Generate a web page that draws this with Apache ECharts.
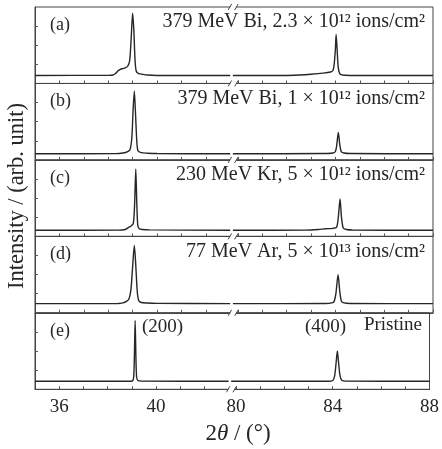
<!DOCTYPE html>
<html><head><meta charset="utf-8">
<script src="https://cdn.jsdelivr.net/npm/echarts@6.0.0/dist/echarts.min.js"></script>
<style>html,body{margin:0;padding:0;background:#fff}#c{width:442px;height:449px}</style>
</head><body><div id="c"></div>
<script>
// ---- data (2θ in degrees, intensity in arb. units) ----
const panelIds = ['(a)', '(b)', '(c)', '(d)', '(e)'];
const panelTitles = [
  '379 MeV Bi, 2.3 × 10¹² ions/cm²',
  '379 MeV Bi, 1 × 10¹² ions/cm²',
  '230 MeV Kr, 5 × 10¹² ions/cm²',
  '77 MeV Ar, 5 × 10¹³ ions/cm²',
  'Pristine'
];
const peakLabels = ['(200)', '(400)'];
const xTickLabels = [36, 40, 80, 84, 88];
const xTicks = [36, 37, 38, 39, 40, 41, 42, 80, 81, 82, 83, 84, 85, 86, 87, 88];
const yTicks = [25, 50, 75];

const leftA = [[35,10.5],[38.0,10.6],[38.2,11],[38.3,13],[38.4,16.5],[38.5,18.5],[38.6,19.5],[38.7,20.5],[38.8,22.5],[38.88,30],[38.94,58],[39.0,92],[39.05,70],[39.1,30],[39.15,16],[39.25,13],[39.4,12],[39.6,11],[40,10.5],[43,10.5]];
const rightA = [[79.8,10.5],[82.0,10.5],[82.5,11],[83.0,12],[83.5,13.5],[83.8,15],[83.9,17],[83.95,25],[84.0,45],[84.03,64],[84.07,45],[84.12,20],[84.2,12],[84.4,10.8],[85,10.5],[88,10.5]];
const leftB = [[35,8],[38.3,8.2],[38.6,9],[38.8,11],[38.9,14],[38.97,30],[39.02,65],[39.07,90],[39.12,60],[39.17,25],[39.22,12],[39.35,9.5],[39.6,8.8],[40,8.3],[43,8]];
const rightB = [[79.8,8],[83.5,8.3],[83.9,9],[84.0,11],[84.05,18],[84.12,36],[84.18,20],[84.24,11],[84.35,9],[84.6,8.3],[88,8]];
const leftC = [[35,8],[38.4,8.2],[38.7,9],[38.85,12],[38.95,14],[39.03,17],[39.08,40],[39.13,88],[39.17,45],[39.21,15],[39.27,10],[39.4,9],[39.7,8.5],[43,8]];
const rightC = [[79.8,8],[82.8,8.2],[83.3,9],[83.6,10],[83.9,10.5],[84.05,12],[84.12,25],[84.19,49],[84.25,25],[84.32,11],[84.45,9],[84.7,8.3],[88,8]];
const leftD = [[35,12],[38.4,12.2],[38.6,13],[38.75,15],[38.85,18],[38.93,30],[39.0,60],[39.07,88],[39.13,62],[39.19,28],[39.25,16],[39.35,13.5],[39.6,12.8],[40,12.4],[43,12]];
const rightD = [[79.8,12],[83.6,12.2],[83.85,13],[83.95,15],[84.02,25],[84.11,50],[84.18,28],[84.25,15],[84.35,13],[84.6,12.3],[88,12]];
const leftE = [[35,10.5],[38.9,10.5],[39.03,11],[39.08,16],[39.11,45],[39.14,90],[39.17,45],[39.2,16],[39.25,11.5],[39.4,10.7],[43,10.5]];
const rightE = [[79.8,10.5],[83.8,10.6],[84.0,11.5],[84.08,18],[84.14,35],[84.19,50],[84.24,35],[84.3,18],[84.38,11.5],[84.55,10.7],[88,10.5]];

const leftSets = [leftA, leftB, leftC, leftD, leftE];
const rightSets = [rightA, rightB, rightC, rightD, rightE];

// ---- broken axis mapping ----
const X_MIN = 35, X_MAX = 88;
const BREAK_OFFSET = 36.69;     // right segment shift
const BREAK_T = 43.12;          // position of the break mark on the compressed axis
const toT = x => (x > 60 ? x - BREAK_OFFSET : x);
const fromT = t => (t > BREAK_T ? t + BREAK_OFFSET : t);

const FONT = "'Liberation Serif', 'DejaVu Serif', serif";
const INK = '#262626';
const GL = 35, GW = 398, GTOP = 7, PH = 76.46;

const grids = [], xAxes = [], yAxes = [], series = [], graphics = [];
for (let i = 0; i < 5; i++) {
  const top = GTOP + i * PH;
  grids.push({ left: GL, width: GW, top: top, height: PH, show: true, borderColor: '#444', borderWidth: 1, backgroundColor: 'transparent' });
  xAxes.push({
    type: 'value', gridIndex: i, min: toT(X_MIN), max: toT(X_MAX),
    axisLine: { show: true, onZero: false, lineStyle: { color: '#444', width: 1.2 } },
    axisTick: { show: true, inside: true, length: 3, customValues: xTicks.map(toT), lineStyle: { color: '#555' } },
    axisLabel: {
      show: i === 4, customValues: xTickLabels.map(toT), margin: 8,
      fontFamily: FONT, fontSize: 19, color: INK,
      formatter: v => String(Math.round(fromT(v)))
    },
    splitLine: { show: false }
  });
  yAxes.push({
    type: 'value', gridIndex: i, min: 0, max: 100,
    axisLine: { show: true, lineStyle: { color: '#444', width: 1 } },
    axisTick: { show: true, inside: true, length: 3, customValues: yTicks, lineStyle: { color: '#555' } },
    axisLabel: { show: false }, splitLine: { show: false }
  });
  series.push({
    type: 'line', xAxisIndex: i, yAxisIndex: i, showSymbol: false, smooth: 0.25,
    lineStyle: { color: INK, width: 1.4 }, data: leftSets[i].map(p => [toT(p[0]), p[1]]), animation: false
  });
  series.push({
    type: 'line', xAxisIndex: i, yAxisIndex: i, showSymbol: false, smooth: 0.25,
    lineStyle: { color: INK, width: 1.4 }, data: rightSets[i].map(p => [toT(p[0]), p[1]]), animation: false
  });
  series.push({
    type: 'custom', xAxisIndex: i, yAxisIndex: i, clip: false, silent: true, z: 10, animation: false,
    data: i === 0 ? [[BREAK_T, 0], [BREAK_T, 100]] : [[BREAK_T, 0]],
    renderItem: (params, api) => {
      const p = api.coord([api.value(0), api.value(1)]);
      return { type: 'group', children: [
        { type: 'rect', shape: { x: p[0] - 3, y: p[1] - 1.5, width: 6, height: 3 }, style: { fill: '#fff' } },
        { type: 'line', shape: { x1: p[0] - 5, y1: p[1] + 3, x2: p[0] - 1.5, y2: p[1] - 3 }, style: { stroke: '#444', lineWidth: 1 } },
        { type: 'line', shape: { x1: p[0] + 1.5, y1: p[1] + 3, x2: p[0] + 5, y2: p[1] - 3 }, style: { stroke: '#444', lineWidth: 1 } }
      ]};
    }
  });
  // panel id
  graphics.push({ type: 'text', left: 50, top: top + 9, style: { text: panelIds[i], font: `18px ${FONT}`, fill: INK } });
  // panel title
  if (i < 4) {
    graphics.push({ type: 'text', right: 442 - 425, top: top + 5, style: { text: panelTitles[i], font: `20px ${FONT}`, fill: INK } });
  }
}
// pristine panel annotations
const topE = GTOP + 4 * PH;
graphics.push({ type: 'text', left: 142, top: topE + 5, style: { text: peakLabels[0], font: `19px ${FONT}`, fill: INK } });
graphics.push({ type: 'text', left: 305, top: topE + 5, style: { text: peakLabels[1], font: `19px ${FONT}`, fill: INK } });
graphics.push({ type: 'text', right: 442 - 422, top: topE + 3, style: { text: panelTitles[4], font: `19px ${FONT}`, fill: INK } });
// axis names
graphics.push({ type: 'text', x: 17, y: 196, rotation: Math.PI / 2, style: { text: 'Intensity / (arb. unit)', font: `22.5px ${FONT}`, fill: INK, align: 'center', verticalAlign: 'middle' } });
graphics.push({ type: 'text', x: 238, y: 434, style: {
  text: '{n|2}{i|θ}{n| / (°)}', align: 'center', verticalAlign: 'middle',
  rich: { n: { fontFamily: FONT, fontSize: 23, fill: INK, color: INK }, i: { fontFamily: FONT, fontSize: 23, fontStyle: 'italic', fill: INK, color: INK } }
} });

const chart = echarts.init(document.getElementById('c'), null, { renderer: 'canvas' });
chart.setOption({ animation: false, grid: grids, xAxis: xAxes, yAxis: yAxes, series: series, graphic: graphics });
</script></body></html>
